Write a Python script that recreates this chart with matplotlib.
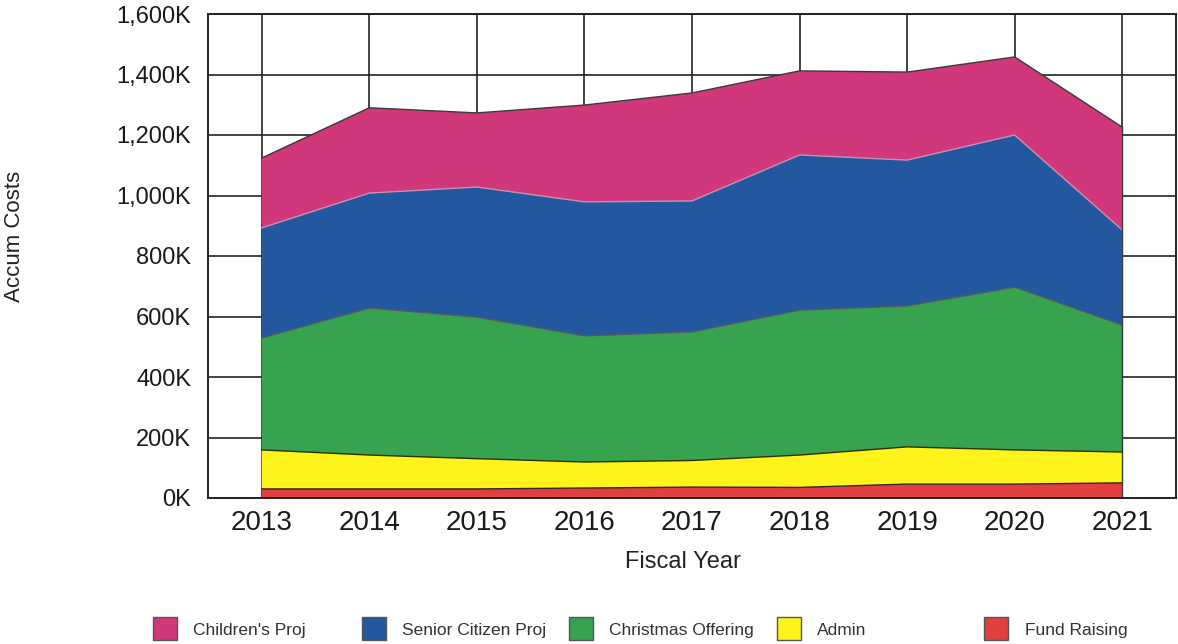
import matplotlib
matplotlib.use("Agg")
import matplotlib.pyplot as plt
import numpy as np
from matplotlib.patches import Rectangle
from matplotlib.ticker import FuncFormatter, MultipleLocator

plt.rcParams['font.family'] = ['Liberation Sans', 'DejaVu Sans']

years = [2013, 2014, 2015, 2016, 2017, 2018, 2019, 2020, 2021]
fund_raising = [30, 30, 30, 33, 36, 35, 46, 46, 50]
admin = [129, 112, 100, 86, 88, 107, 123, 113, 102]
christmas_offering = [370, 486, 468, 417, 425, 479, 466, 538, 420]
senior_citizen_proj = [364, 380, 430, 443, 433, 513, 482, 503, 314]
childrens_proj = [231, 282, 245, 320, 357, 278, 291, 258, 340]

labels = ["Fund Raising", "Admin", "Christmas Offering", "Senior Citizen Proj", "Children's Proj"]
series = [fund_raising, admin, christmas_offering, senior_citizen_proj, childrens_proj]
colors = ["#E0403F", "#FFF31C", "#37A34F", "#2358A1", "#D1377B"]
top_lines = ["#3a2020", "#2e2e10", "#505a60", "#c890b0", "#3a3a3a"]

W, H = 1178, 644
fig = plt.figure(figsize=(W / 100, H / 100), dpi=100)
ax = fig.add_axes([208 / W, 1 - 498 / H, 968 / W, 484 / H])

stack = ax.stackplot(years, *series, colors=colors, zorder=3, linewidth=0)
cum = np.cumsum(np.array(series), axis=0)
for row, lc in zip(cum, top_lines):
    ax.plot(years, row, color=lc, linewidth=1.0, zorder=4)
ax.plot([years[-1], years[-1]], [0, cum[-1][-1]], color="#3a3a3a", linewidth=1.0, zorder=4)

ax.set_xlim(2012.5, 2021.5)
ax.set_ylim(0, 1600)
ax.set_xticks(years)
ax.yaxis.set_major_locator(MultipleLocator(200))
ax.yaxis.set_major_formatter(FuncFormatter(lambda v, p: f"{int(v):,}K"))
ax.grid(True, color="#222222", linewidth=1.2, zorder=1)
ax.set_axisbelow(True)
for s in ax.spines.values():
    s.set_color("#222222")
    s.set_linewidth(1.4)
    s.set_zorder(5)
ax.tick_params(axis='x', length=0, pad=9, labelsize=20, colors="#1a1a1a")
ax.tick_params(axis='y', length=0, pad=12, labelsize=17, colors="#1a1a1a")

fig.text(683 / W, 1 - 562 / H, "Fiscal Year", ha="center", va="center", fontsize=17, color="#222222")
fig.text(15 / W, 1 - 236 / H, "Accum Costs", ha="center", va="center", rotation=90, fontsize=16, color="#222222")

# legend (manual placement)
leg_items = [
    ("Children's Proj", colors[4], 153, 193),
    ("Senior Citizen Proj", colors[3], 362, 402),
    ("Christmas Offering", colors[2], 569, 609),
    ("Admin", colors[1], 777, 817),
    ("Fund Raising", colors[0], 984, 1025),
]
for name, col, px, tx in leg_items:
    fig.add_artist(Rectangle((px / W, 1 - 640 / H), 24 / W, 23 / H,
                             facecolor=col, edgecolor="#555555", linewidth=1.0,
                             transform=fig.transFigure))
    fig.text(tx / W, 1 - 629 / H, name, ha="left", va="center_baseline", fontsize=12.5,
             color="#333333")

fig.savefig("out.png", dpi=100)
